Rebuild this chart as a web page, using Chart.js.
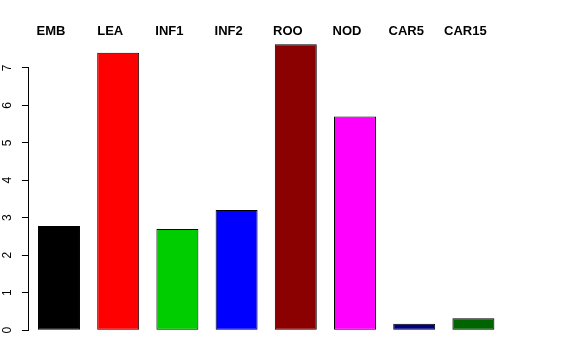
<!DOCTYPE html>
<html>
<head>
<meta charset="utf-8">
<script src="https://cdn.jsdelivr.net/npm/chart.js@4/dist/chart.umd.min.js"></script>
<style>
html,body{margin:0;padding:0;background:#fff;}
canvas{display:block;}
</style>
</head>
<body>
<canvas id="c" width="576" height="360"></canvas>
<script>
const categories = ['EMB', 'LEA', 'INF1', 'INF2', 'ROO', 'NOD', 'CAR5', 'CAR15'];
const values = [2.78, 7.40, 2.70, 3.21, 7.63, 5.70, 0.17, 0.32];
const barColors = ['#000000', '#FF0000', '#00CD00', '#0000FF', '#8B0000', '#FF00FF', '#000080', '#006400'];
const yTickValues = [0, 1, 2, 3, 4, 5, 6, 7];

const axisLinePlugin = {
  id: 'axisLine',
  afterDraw(chart) {
    const y = chart.scales.y;
    const ctx = chart.ctx;
    const x = Math.floor(y.right - 0.5) + 0.5;
    ctx.save();
    ctx.strokeStyle = '#000';
    ctx.lineWidth = 1;
    ctx.beginPath();
    ctx.moveTo(x, y.getPixelForValue(yTickValues[0]) + 0.5);
    ctx.lineTo(x, y.getPixelForValue(yTickValues[yTickValues.length - 1]) - 0.5);
    ctx.stroke();
    ctx.restore();
  }
};

new Chart(document.getElementById('c'), {
  type: 'bar',
  data: {
    labels: categories,
    datasets: [{
      data: values,
      backgroundColor: barColors,
      borderColor: '#000',
      borderWidth: 1,
      borderSkipped: false,
      barPercentage: 0.709,
      categoryPercentage: 1.0
    }]
  },
  options: {
    responsive: false,
    animation: false,
    devicePixelRatio: 1,
    layout: { padding: { left: 0, right: 73, top: 22, bottom: 18 } },
    plugins: { legend: { display: false }, tooltip: { enabled: false } },
    scales: {
      x: {
        position: 'top',
        grid: { display: false, drawTicks: false },
        border: { display: false },
        ticks: {
          color: '#000',
          font: { family: 'Liberation Sans, Arial, sans-serif', size: 13, weight: 'bold' },
          labelOffset: -8,
          padding: 2,
          maxRotation: 0,
          autoSkip: false
        }
      },
      y: {
        min: -0.31,
        max: 7.70,
        afterBuildTicks(scale) { scale.ticks = yTickValues.map(v => ({ value: v })); },
        afterFit(scale) { scale.width = 29.4; },
        grid: { drawOnChartArea: false, drawTicks: true, tickLength: 7.5, color: '#000', lineWidth: 1 },
        border: { display: false },
        ticks: {
          color: '#000',
          font: { family: 'Liberation Sans, Arial, sans-serif', size: 12 },
          minRotation: 90,
          maxRotation: 90,
          crossAlign: 'center',
          padding: 11
        }
      }
    }
  },
  plugins: [axisLinePlugin]
});
</script>
</body>
</html>
